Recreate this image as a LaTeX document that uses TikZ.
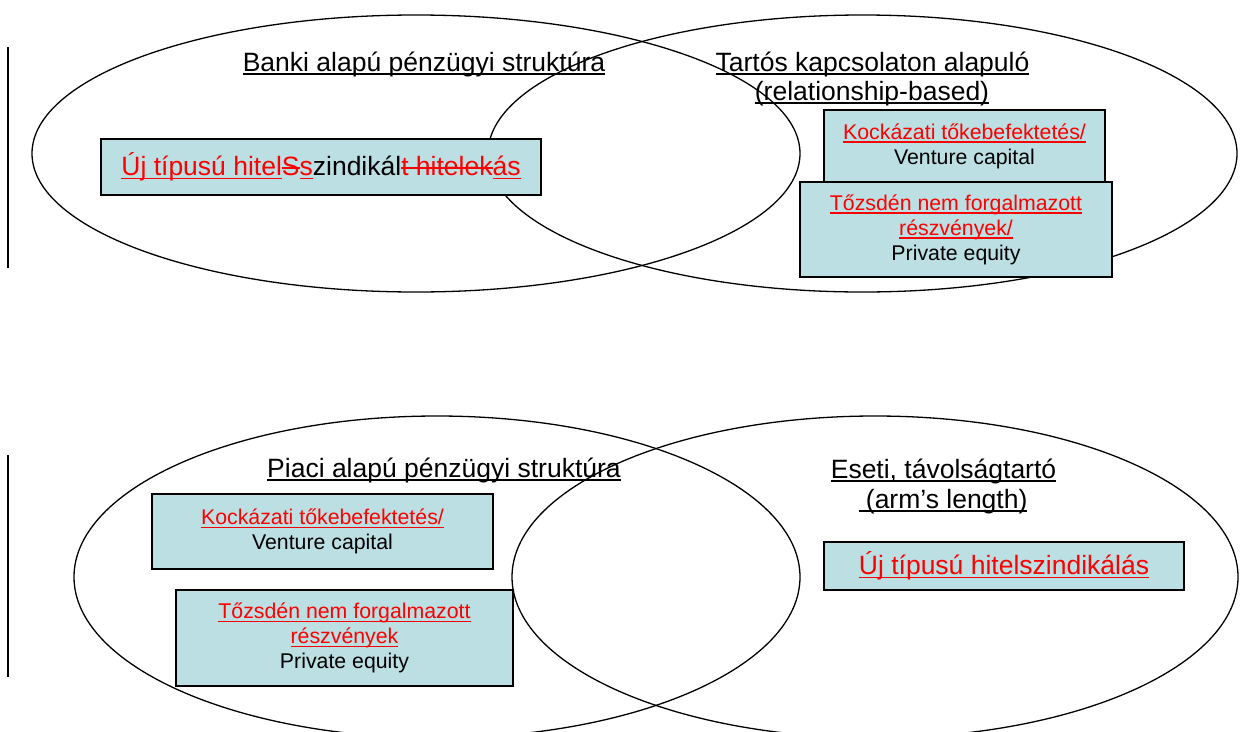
\documentclass[tikz,border=0pt]{standalone}
\usepackage{fontspec}
\setmainfont{Liberation Sans}
\definecolor{boxblue}{RGB}{187,223,227}
\newsavebox\linebox
\newcommand{\ulin}[1]{\sbox\linebox{#1}\rlap{\rule[-3.5pt]{\wd\linebox}{1.5pt}}\usebox\linebox}
\newcommand{\strk}[1]{\sbox\linebox{#1}\rlap{\rule[0.26em]{\wd\linebox}{1.5pt}}\usebox\linebox}
\newcommand{\redul}[1]{\textcolor{red}{\ulin{#1}}}
\newcommand{\redso}[1]{\textcolor{red}{\strk{#1}}}

\begin{document}
\begin{tikzpicture}[x=1pt, y=-1pt,
	venn/.style = {draw, line width=1.3pt},
	title/.style = {inner sep=0pt, anchor=base, font=\fontsize{26.5}{30}\selectfont},
	main/.style = {draw, line width=1.6pt, fill=boxblue, inner sep=0pt, align=center},
	big/.style = {font=\fontsize{26.5}{30}\selectfont},
	small/.style = {font=\fontsize{21.3}{25}\selectfont},
	bar/.style = {line width=1.8pt}]
	\useasboundingbox (0,0) rectangle (1241,731);
	\clip (0,0) rectangle (1241,731);
	
	% bank based / relationship based
	\draw[venn] (416,153.5) ellipse [x radius=384pt, y radius=138.5pt];
	\draw[venn] (862.5,153.5) ellipse [x radius=374.5pt, y radius=138.5pt];
	
	\node[title] (banki) at (424,71) {\ulin{Banki alapú pénzügyi struktúra}};
	\node[title] (tartos) at (872.5,71) {\ulin{Tartós kapcsolaton alapuló}};
	\node[title] (relbased) at (872,100) {\ulin{(relationship-based)}};
	
	\node[main, big, minimum width=440pt, minimum height=56pt] (hitel1) at (321,167)
		{\redul{Új típusú hitel}\redso{S}\redul{s}zindikál\redso{t hitelek}\redul{ás}};
	\node[main, small, minimum width=281pt, minimum height=72pt] (kock1) at (964.5,146)
		{\redul{Kockázati tőkebefektetés/}\\Venture capital};
	\node[main, small, minimum width=312pt, minimum height=95pt] (tozsde1) at (956,229.5)
		{\redul{Tőzsdén nem forgalmazott}\\\redul{részvények/}\\Private equity};
	
	% market based / arm's length
	\draw[venn] (437,577) ellipse [x radius=363pt, y radius=161pt];
	\draw[venn] (875,577) ellipse [x radius=363pt, y radius=161pt];
	
	\node[title] (piaci) at (444,477) {\ulin{Piaci alapú pénzügyi struktúra}};
	\node[title] (eseti) at (943.5,478) {\ulin{Eseti, távolságtartó}};
	\node[title] (armslength) at (943,508) {\ulin{~(arm’s length)}};
	
	\node[main, small, minimum width=341pt, minimum height=75pt] (kock2) at (322.5,531.5)
		{\redul{Kockázati tőkebefektetés/}\\Venture capital};
	\node[main, small, minimum width=337pt, minimum height=96pt] (tozsde2) at (344.5,638)
		{\redul{Tőzsdén nem forgalmazott}\\\redul{részvények}\\Private equity};
	\node[main, big, minimum width=360pt, minimum height=48pt] (hitel2) at (1004,566)
		{\redul{Új típusú hitelszindikálás}};
	
	% change bars
	\coordinate (bar1a) at (8,47);
	\coordinate (bar1b) at (8,268);
	\coordinate (bar2a) at (8,455);
	\coordinate (bar2b) at (8,677);
	\draw[bar] (bar1a) -- (bar1b);
	\draw[bar] (bar2a) -- (bar2b);
	
\end{tikzpicture}
\end{document}
